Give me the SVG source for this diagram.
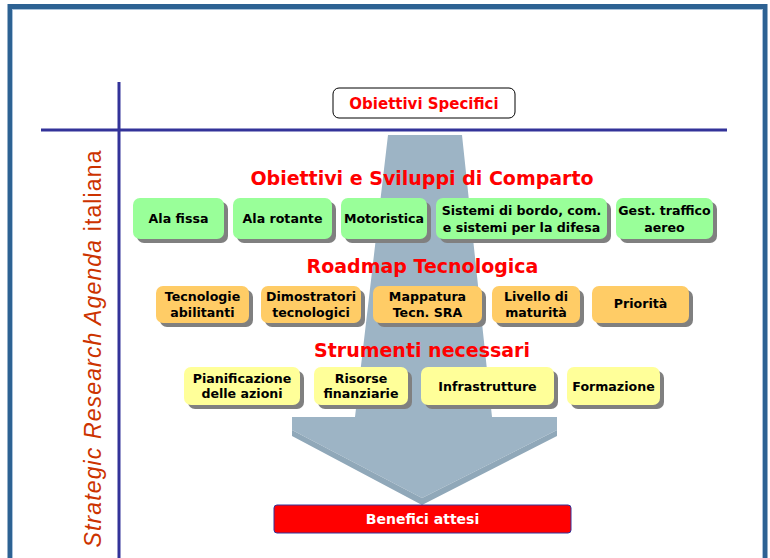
<svg xmlns="http://www.w3.org/2000/svg" width="770" height="558" viewBox="0 0 770 558">
<style>
.bx text{font-family:"DejaVu Sans",Verdana,sans-serif;font-weight:bold;font-size:12.6px;fill:#000;text-anchor:middle}
.sh{fill:#808080}
.g{fill:#99FF99}
.o{fill:#FFCC66}
.y{fill:#FFFF99}
.title{font-family:"DejaVu Sans",Verdana,sans-serif;font-weight:bold;font-size:19px;fill:#FF0000;text-anchor:middle}
.axis{stroke:#333399;stroke-width:3;fill:none}
</style>
<rect x="0" y="0" width="770" height="558" fill="#FFFFFF"/>
<!-- frame -->
<rect x="10" y="6.5" width="755" height="600" fill="none" stroke="#2D6293" stroke-width="5"/>
<rect x="12.5" y="9.5" width="750" height="600" fill="none" stroke="#A9C2DA" stroke-width="1"/>
<!-- arrow -->
<g id="arrow">
<polygon points="388,135 462,135 492,417 557,417 557,430 422,498 292,430 292,417 355,417" fill="#9DB4C5"/>
<polygon points="292,430 422,498 557,430 557,436 422,505 292,436" fill="#90A8B9"/>
</g>
<!-- axes -->
<g id="axes">
<line class="axis" x1="119" y1="82" x2="119" y2="558"/>
<line class="axis" x1="41" y1="130" x2="727" y2="130"/>
</g>
<text transform="translate(101,349) rotate(-90)" text-anchor="middle" font-family="Liberation Sans, Arial, sans-serif" font-size="23" fill="#CC3300" textLength="397" lengthAdjust="spacing"><tspan font-style="italic">Strategic Research Agenda </tspan>italiana</text>
<g id="obiettivi-specifici">
<rect x="333" y="88" width="182" height="30" rx="6" fill="#FFFFFF" stroke="#000000" stroke-width="1"/>
<text x="424" y="109" font-family="DejaVu Sans, Verdana, sans-serif" font-weight="bold" font-size="15" fill="#FF0000" text-anchor="middle">Obiettivi Specifici</text>
</g>
<text class="title" x="422" y="185">Obiettivi e Sviluppi di Comparto</text>
<text class="title" x="422.5" y="273">Roadmap Tecnologica</text>
<text class="title" x="422" y="357">Strumenti necessari</text>
<!-- green row -->
<g id="ala-fissa" class="bx"><rect class="sh" x="137" y="202" width="91" height="41" rx="7"/><rect class="g" x="133" y="198" width="91" height="41" rx="7"/><text x="178.5" y="223">Ala fissa</text></g>
<g id="ala-rotante" class="bx"><rect class="sh" x="237" y="202" width="99" height="41" rx="7"/><rect class="g" x="233" y="198" width="99" height="41" rx="7"/><text x="282.5" y="223">Ala rotante</text></g>
<g id="motoristica" class="bx"><rect class="sh" x="345" y="202" width="86" height="41" rx="7"/><rect class="g" x="341" y="198" width="86" height="41" rx="7"/><text x="384" y="223">Motoristica</text></g>
<g id="sistemi" class="bx"><rect class="sh" x="440" y="202" width="171" height="41" rx="7"/><rect class="g" x="436" y="198" width="171" height="41" rx="7"/><text x="521.5" y="215">Sistemi di bordo, com.</text><text x="521.5" y="232">e sistemi per la difesa</text></g>
<g id="gest-traffico" class="bx"><rect class="sh" x="620" y="202" width="97" height="41" rx="7"/><rect class="g" x="616" y="198" width="97" height="41" rx="7"/><text x="664.5" y="215">Gest. traffico</text><text x="664.5" y="232">aereo</text></g>
<!-- orange row -->
<g id="tecnologie" class="bx"><rect class="sh" x="160" y="290" width="93" height="37" rx="7"/><rect class="o" x="156" y="286" width="93" height="37" rx="7"/><text x="202.5" y="301">Tecnologie</text><text x="202.5" y="317">abilitanti</text></g>
<g id="dimostratori" class="bx"><rect class="sh" x="265" y="290" width="100" height="37" rx="7"/><rect class="o" x="261" y="286" width="100" height="37" rx="7"/><text x="311" y="301">Dimostratori</text><text x="311" y="317">tecnologici</text></g>
<g id="mappatura" class="bx"><rect class="sh" x="377" y="290" width="109" height="37" rx="7"/><rect class="o" x="373" y="286" width="109" height="37" rx="7"/><text x="427.5" y="301">Mappatura</text><text x="427.5" y="317">Tecn. SRA</text></g>
<g id="livello" class="bx"><rect class="sh" x="496" y="290" width="88" height="37" rx="7"/><rect class="o" x="492" y="286" width="88" height="37" rx="7"/><text x="536" y="301">Livello di</text><text x="536" y="317">maturità</text></g>
<g id="priorita" class="bx"><rect class="sh" x="596" y="290" width="97" height="37" rx="7"/><rect class="o" x="592" y="286" width="97" height="37" rx="7"/><text x="640.5" y="308">Priorità</text></g>
<!-- yellow row -->
<g id="pianificazione" class="bx"><rect class="sh" x="188" y="371" width="116" height="38" rx="7"/><rect class="y" x="184" y="367" width="116" height="38" rx="7"/><text x="242" y="383">Pianificazione</text><text x="242" y="398">delle azioni</text></g>
<g id="risorse" class="bx"><rect class="sh" x="318" y="371" width="94" height="38" rx="7"/><rect class="y" x="314" y="367" width="94" height="38" rx="7"/><text x="361" y="383">Risorse</text><text x="361" y="398">finanziarie</text></g>
<g id="infrastrutture" class="bx"><rect class="sh" x="425" y="371" width="133" height="38" rx="7"/><rect class="y" x="421" y="367" width="133" height="38" rx="7"/><text x="487.5" y="391">Infrastrutture</text></g>
<g id="formazione" class="bx"><rect class="sh" x="571" y="371" width="93" height="38" rx="7"/><rect class="y" x="567" y="367" width="93" height="38" rx="7"/><text x="613.5" y="391">Formazione</text></g>
<!-- benefici -->
<g id="benefici-attesi">
<rect x="274" y="505" width="297" height="28" rx="3" fill="#FF0000" stroke="#333399" stroke-width="1"/>
<text x="422.5" y="524" font-family="DejaVu Sans, Verdana, sans-serif" font-weight="bold" font-size="14" fill="#FFFFFF" text-anchor="middle">Benefici attesi</text>
</g>
</svg>
